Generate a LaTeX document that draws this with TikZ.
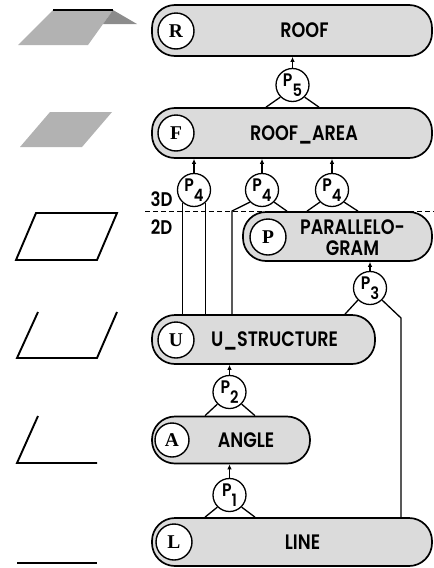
\documentclass[tikz,border=0pt]{standalone}
\usepackage{fontspec}
\newfontfamily\barfont{Poppins SemiBold}
\newfontfamily\letterfont{Liberation Serif}
\usetikzlibrary{arrows.meta}
\newcommand{\prule}[1]{\scalebox{0.95}[1.1]{P\raisebox{-9pt}{\fontsize{15.5}{15.5}\selectfont #1}}}
\newcommand{\tall}[1]{\scalebox{0.95}[1.13]{#1}}
\begin{document}
\begin{tikzpicture}[x=1pt,y=-1pt,
  bar/.style={draw=black, line width=1.7pt, fill=black!14, rounded corners=23pt, inner sep=0pt},
  keyletter/.style={circle, draw=black, line width=1.4pt, fill=white, minimum size=36pt, inner sep=0pt,
    font=\letterfont\bfseries\fontsize{19.5}{19.5}\selectfont},
  txt/.style={font=\barfont\fontsize{18.5}{20.5}\selectfont, inner sep=0pt, text depth=0pt, align=center},
  prod/.style={circle, draw=black, line width=1.3pt, fill=white, minimum size=33pt, inner sep=0pt,
    font=\barfont\fontsize{16.5}{16.5}\selectfont},
  leg/.style={line width=1.3pt, line join=miter},
  uparrow/.style={line width=1.3pt, -{Latex[length=5pt,width=4.5pt]}},
  icon/.style={line width=1.9pt, line join=miter},
  stipple/.style={fill=black!30, draw=none},
]
\useasboundingbox (0,0) rectangle (434,568);

% --- geometric sketches in the left column ---
\fill[stipple] (53,10) -- (113,10) -- (88,45) -- (18,45) -- cycle;
\fill[black!45] (113,10) -- (137,24) -- (103,24) -- cycle;
\draw[line width=2.4pt] (53,10) -- (113,10);
\fill[stipple] (50,112) -- (112,112) -- (82,147) -- (20,147) -- cycle;
\draw[icon] (36,213) -- (117,213) -- (97,260) -- (16,260) -- cycle;
\draw[icon] (38,312) -- (17,358) -- (97,358) -- (117,312);
\draw[icon] (38,416) -- (17,463) -- (97,463);
\draw[icon] (17,563) -- (97,563);

% --- 3D / 2D separation ---
\draw[line width=1pt, dash pattern=on 5pt off 3pt] (145,211) -- (434,211);
\node[txt, font=\barfont\fontsize{17.5}{18}\selectfont] (d3) at (161.5,199) {\tall{3D}};
\node[txt, font=\barfont\fontsize{17.5}{18}\selectfont] (d2) at (161.5,227) {\tall{2D}};

% --- object bars ---
\node[bar, minimum width=280pt, minimum height=51pt] (roof)  at (292,30.5) {};
\node[bar, minimum width=280pt, minimum height=50pt] (area)  at (292,133) {};
\node[bar, minimum width=189pt, minimum height=49pt] (para)  at (337.5,236.5) {};
\node[bar, minimum width=223pt, minimum height=49pt] (ustr)  at (263.5,339.5) {};
\node[bar, minimum width=158pt, minimum height=47pt] (angle) at (231,440) {};
\node[bar, minimum width=280pt, minimum height=48pt] (line)  at (292,542) {};

\node[keyletter] (kR) at (176,31) {R};
\node[keyletter] (kF) at (176,133) {F};
\node[keyletter] (kP) at (268,237) {P};
\node[keyletter] (kU) at (176,340) {U};
\node[keyletter, minimum size=34pt] (kA) at (172,440) {A};
\node[keyletter] (kL) at (174,542) {L};

\node[txt] (tR) at (304.5,30.5) {\tall{ROOF}};
\node[txt] (tF) at (304,133) {\tall{ROOF\_AREA}};
\node[txt] (tP) at (352.5,237.5) {\tall{PARALLELO-}\\\tall{GRAM}};
\node[txt] (tU) at (274.5,339.5) {\tall{U\_STRUCTURE}};
\node[txt] (tA) at (246,440) {\tall{ANGLE}};
\node[txt] (tL) at (302.5,542) {\tall{LINE}};

% --- production rules ---
\node[prod] (p5)  at (292.5,85)  {\prule{5}};
\node[prod] (p4a) at (194,190)   {\prule{4}};
\node[prod] (p4b) at (262,190)   {\prule{4}};
\node[prod] (p4c) at (332,190)   {\prule{4}};
\node[prod] (p3)  at (370,288)   {\prule{3}};
\node[prod] (p2)  at (229.5,392) {\prule{2}};
\node[prod] (p1)  at (229.5,495) {\prule{1}};

\coordinate (bend4) at (232,211);
\coordinate (bend3) at (401,318);

% P5: ROOF_AREA -> ROOF
\draw[uparrow] (p5.north) -- (p5.north |- roof.south);
\draw[leg] (p5.225) -- (area.north -| 266,0);
\draw[leg] (p5.315) -- (area.north -| 319,0);

% P4: U_STRUCTURE (+ PARALLELOGRAM) -> ROOF_AREA
\draw[uparrow] (p4a.north) -- (p4a.north |- area.south);
\draw[uparrow] (p4b.north) -- (p4b.north |- area.south);
\draw[uparrow] (p4c.north) -- (p4c.north |- area.south);
\draw[leg] (p4a.227) -- (p4a.227 |- ustr.north);
\draw[leg] (p4a.313) -- (p4a.313 |- ustr.north);
\draw[leg] (p4b.225) -- (bend4) -- (bend4 |- ustr.north);
\draw[leg] (p4b.315) -- (para.north -| 287,0);
\draw[leg] (p4c.225) -- (para.north -| 307,0);
\draw[leg] (p4c.315) -- (para.north -| 358,0);

% P3: U_STRUCTURE + LINE -> PARALLELOGRAM
\draw[uparrow] (p3.north) -- (p3.north |- para.south);
\draw[leg] (p3.225) -- (ustr.north -| 345,0);
\draw[leg] (p3.315) -- (bend3) -- (bend3 |- line.north);

% P2: ANGLE -> U_STRUCTURE
\draw[uparrow] (p2.north) -- (p2.north |- ustr.south);
\draw[leg] (p2.225) -- (angle.north -| 205,0);
\draw[leg] (p2.315) -- (angle.north -| 255,0);

% P1: LINE -> ANGLE
\draw[uparrow] (p1.north) -- (p1.north |- angle.south);
\draw[leg] (p1.225) -- (line.north -| 205,0);
\draw[leg] (p1.315) -- (line.north -| 255,0);
\end{tikzpicture}
\end{document}
